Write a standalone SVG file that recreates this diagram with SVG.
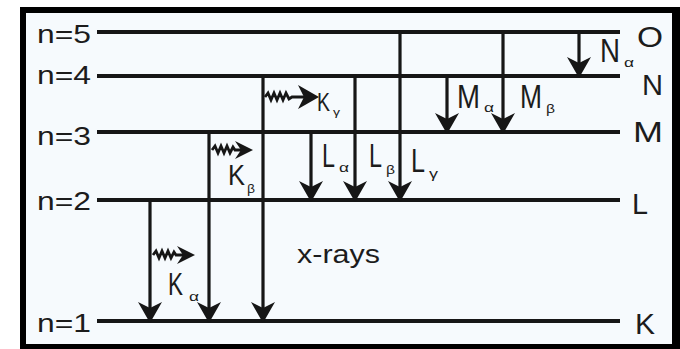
<svg xmlns="http://www.w3.org/2000/svg" width="680" height="349" viewBox="0 0 680 349">
<style>
text{font-family:"Liberation Sans",Arial,sans-serif;fill:#1c1c1c}
.lvl{stroke:#161616;stroke-width:3.8}
.tr{stroke:#161616;stroke-width:3.2;fill:none}
.wv{stroke:#161616;stroke-width:2.8;fill:none;stroke-linejoin:miter}
.lab{font-size:25px}
.rl{font-size:30px}
.big{font-size:33px}
.sub{font-size:13px}
</style>
<defs>
<marker id="ah" markerUnits="userSpaceOnUse" markerWidth="30" markerHeight="30" viewBox="-10 -10 20 20" refX="0" refY="0" orient="auto" overflow="visible">
<path d="M8,0 L-6,-8 L-2,0 L-6,8 Z" fill="#161616"/>
</marker>
<marker id="wh" markerUnits="userSpaceOnUse" markerWidth="30" markerHeight="30" viewBox="-10 -10 20 20" refX="0" refY="0" orient="auto" overflow="visible">
<path d="M6,0 L-6,-6 L-2,0 L-6,6 Z" fill="#161616"/>
</marker>
</defs>
<rect x="20" y="7" width="660" height="342" fill="#000"/>
<rect x="26" y="13" width="646" height="331" fill="#f6fafd"/>

<g id="levels">
<line class="lvl" x1="97" y1="32" x2="620" y2="32"/>
<line class="lvl" x1="97" y1="76" x2="620" y2="76"/>
<line class="lvl" x1="97" y1="132" x2="620" y2="132"/>
<line class="lvl" x1="97" y1="200" x2="620" y2="200"/>
<line class="lvl" x1="97" y1="321" x2="620" y2="321"/>
</g>

<g id="level-labels">
<text class="lab" x="37" y="43" textLength="54" lengthAdjust="spacingAndGlyphs">n=5</text>
<text class="lab" x="37" y="84" textLength="54" lengthAdjust="spacingAndGlyphs">n=4</text>
<text class="lab" x="37" y="145" textLength="54" lengthAdjust="spacingAndGlyphs">n=3</text>
<text class="lab" x="37" y="210" textLength="54" lengthAdjust="spacingAndGlyphs">n=2</text>
<text class="lab" x="37" y="332" textLength="54" lengthAdjust="spacingAndGlyphs">n=1</text>
<text class="rl" x="637" y="47" textLength="26" lengthAdjust="spacingAndGlyphs">O</text>
<text class="rl" x="642" y="95" textLength="21" lengthAdjust="spacingAndGlyphs">N</text>
<text class="rl" x="633" y="142" textLength="30" lengthAdjust="spacingAndGlyphs">M</text>
<text class="rl" x="632" y="214" textLength="16" lengthAdjust="spacingAndGlyphs">L</text>
<text class="rl" x="635" y="334" textLength="20" lengthAdjust="spacingAndGlyphs">K</text>
</g>

<g id="connectors">
<line class="tr" x1="150" y1="200" x2="150" y2="311" marker-end="url(#ah)"/>
<line class="tr" x1="209" y1="132" x2="209" y2="311" marker-end="url(#ah)"/>
<line class="tr" x1="263" y1="76" x2="263" y2="311" marker-end="url(#ah)"/>
<line class="tr" x1="311" y1="132" x2="311" y2="190" marker-end="url(#ah)"/>
<line class="tr" x1="355" y1="76" x2="355" y2="190" marker-end="url(#ah)"/>
<line class="tr" x1="400" y1="32" x2="400" y2="190" marker-end="url(#ah)"/>
<line class="tr" x1="447" y1="76" x2="447" y2="122" marker-end="url(#ah)"/>
<line class="tr" x1="503" y1="32" x2="503" y2="122" marker-end="url(#ah)"/>
<line class="tr" x1="579" y1="32" x2="579" y2="66" marker-end="url(#ah)"/>
<polyline class="wv" points="153,255 156,251 159,258 162,251 165,258 168,251 171,258 174,252 176,255 186,255" marker-end="url(#wh)"/>
<polyline class="wv" points="212,150 215,146 218,153 221,146 224,153 227,146 230,153 233,147 235,150 244,150" marker-end="url(#wh)"/>
<polyline class="wv" points="265,97 268,93 271,100 274,93 277,100 280,93 283,100 286,93 289,99 292,97 307,97" marker-end="url(#ah)"/>
</g>

<g id="line-labels">
<text class="big" x="168" y="295" style="font-size:31px" textLength="15" lengthAdjust="spacingAndGlyphs">K</text>
<text class="sub" x="189" y="301" textLength="10" lengthAdjust="spacingAndGlyphs">α</text>
<text class="big" x="228" y="185" style="font-size:29px" textLength="17" lengthAdjust="spacingAndGlyphs">K</text>
<text class="sub" x="247" y="193" textLength="8" lengthAdjust="spacingAndGlyphs">β</text>
<text class="big" x="317" y="111" style="font-size:25px" textLength="13" lengthAdjust="spacingAndGlyphs">K</text>
<text class="sub" x="333" y="116" style="font-size:10px" textLength="7" lengthAdjust="spacingAndGlyphs">γ</text>
<text class="big" x="322" y="167" textLength="13" lengthAdjust="spacingAndGlyphs">L</text>
<text class="sub" x="339" y="172" textLength="10" lengthAdjust="spacingAndGlyphs">α</text>
<text class="big" x="369" y="167" textLength="13" lengthAdjust="spacingAndGlyphs">L</text>
<text class="sub" x="386" y="174" textLength="9" lengthAdjust="spacingAndGlyphs">β</text>
<text class="big" x="411" y="172" textLength="14" lengthAdjust="spacingAndGlyphs">L</text>
<text class="sub" x="429" y="178" textLength="9" lengthAdjust="spacingAndGlyphs">γ</text>
<text class="big" x="457" y="108" textLength="23" lengthAdjust="spacingAndGlyphs">M</text>
<text class="sub" x="484" y="112" textLength="10" lengthAdjust="spacingAndGlyphs">α</text>
<text class="big" x="520" y="108" textLength="22" lengthAdjust="spacingAndGlyphs">M</text>
<text class="sub" x="546" y="113" textLength="9" lengthAdjust="spacingAndGlyphs">β</text>
<text class="big" x="600" y="62" textLength="20" lengthAdjust="spacingAndGlyphs">N</text>
<text class="sub" x="624" y="67" textLength="10" lengthAdjust="spacingAndGlyphs">α</text>
<text class="lab" x="297" y="263" textLength="83" lengthAdjust="spacingAndGlyphs">x-rays</text>
</g>
</svg>
